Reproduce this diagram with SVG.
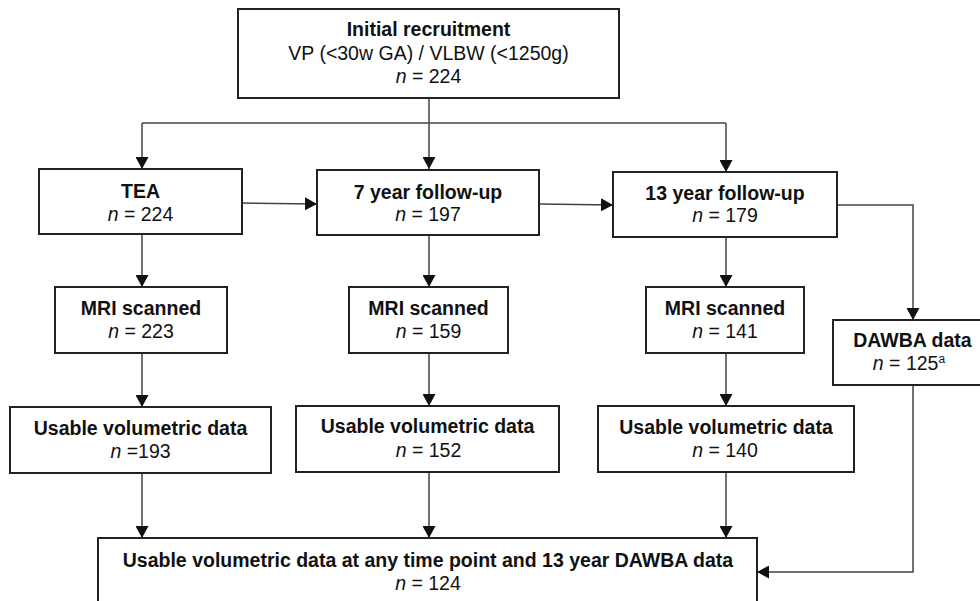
<svg xmlns="http://www.w3.org/2000/svg" width="980" height="601" viewBox="0 0 980 601">
<defs>
<marker id="arr" markerUnits="userSpaceOnUse" markerWidth="13" markerHeight="13" refX="12" refY="6.5" orient="auto" viewBox="0 0 13 13">
<path d="M0,0 L12,6.5 L0,13 z" fill="#111"/>
</marker>
<style>
.box{fill:#fff;stroke:#222;stroke-width:2}
.c{fill:none;stroke:#444;stroke-width:1.5}
.a{marker-end:url(#arr)}
text{font-family:"Liberation Sans",Arial,sans-serif;font-size:19.5px;fill:#111;text-anchor:middle}
.b{font-weight:bold}
.i{font-style:italic}
.sup{font-size:12px}
</style>
</defs>
<rect width="980" height="601" fill="#fff"/>
<g id="connectors">
<path class="c a" d="M429,98 V169"/>
<path class="c" d="M142,123 H726"/>
<path class="c a" d="M142,123 V169"/>
<path class="c a" d="M726,123 V172"/>
<path class="c a" d="M242,203 L317,204"/>
<path class="c a" d="M539,204 L613,205"/>
<path class="c a" d="M837,205 H913 V320"/>
<path class="c a" d="M142,234 V287"/>
<path class="c a" d="M429,235 V287"/>
<path class="c a" d="M726,237 V287"/>
<path class="c a" d="M142,353 V407"/>
<path class="c a" d="M429,353 V406"/>
<path class="c a" d="M726,353 V406"/>
<path class="c a" d="M142,473 V538"/>
<path class="c a" d="M429,472 V538"/>
<path class="c a" d="M726,472 V538"/>
<path class="c a" d="M913,385 V572 H757"/>
</g>
<g id="initial">
<rect class="box" x="238" y="9" width="381" height="89"/>
<text x="428.5" y="36" class="b">Initial recruitment</text>
<text x="428.5" y="60">VP (&lt;30w GA) / VLBW (&lt;1250g)</text>
<text x="428.5" y="83"><tspan class="i">n</tspan> = 224</text>
</g>
<g id="tea">
<rect class="box" x="39" y="169" width="203" height="65"/>
<text x="140.5" y="198" class="b">TEA</text>
<text x="140.5" y="221"><tspan class="i">n</tspan> = 224</text>
</g>
<g id="fu7">
<rect class="box" x="317" y="170" width="222" height="65"/>
<text x="428" y="199" class="b">7 year follow-up</text>
<text x="428" y="221"><tspan class="i">n</tspan> = 197</text>
</g>
<g id="fu13">
<rect class="box" x="613" y="172" width="224" height="65"/>
<text x="725" y="200" class="b">13 year follow-up</text>
<text x="725" y="222"><tspan class="i">n</tspan> = 179</text>
</g>
<g id="mri1">
<rect class="box" x="55" y="287" width="172" height="66"/>
<text x="141" y="315" class="b">MRI scanned</text>
<text x="141" y="338"><tspan class="i">n</tspan> = 223</text>
</g>
<g id="mri2">
<rect class="box" x="349" y="287" width="159" height="66"/>
<text x="428.5" y="315" class="b">MRI scanned</text>
<text x="428.5" y="338"><tspan class="i">n</tspan> = 159</text>
</g>
<g id="mri3">
<rect class="box" x="646" y="287" width="158" height="66"/>
<text x="725" y="315" class="b">MRI scanned</text>
<text x="725" y="338"><tspan class="i">n</tspan> = 141</text>
</g>
<g id="dawba">
<rect class="box" x="833" y="320" width="160" height="65"/>
<text x="912.5" y="347" class="b">DAWBA data</text>
<text x="909" y="370"><tspan class="i">n</tspan> = 125<tspan class="sup" dy="-7">a</tspan></text>
</g>
<g id="usable1">
<rect class="box" x="10" y="407" width="261" height="66"/>
<text x="140.5" y="435" class="b">Usable volumetric data</text>
<text x="140.5" y="458"><tspan class="i">n</tspan> =193</text>
</g>
<g id="usable2">
<rect class="box" x="296" y="406" width="263" height="66"/>
<text x="427.5" y="433" class="b">Usable volumetric data</text>
<text x="428.5" y="457"><tspan class="i">n</tspan> = 152</text>
</g>
<g id="usable3">
<rect class="box" x="598" y="406" width="256" height="66"/>
<text x="726" y="434" class="b">Usable volumetric data</text>
<text x="725" y="457"><tspan class="i">n</tspan> = 140</text>
</g>
<g id="final">
<rect class="box" x="98" y="538" width="659" height="80"/>
<text x="428" y="567" class="b">Usable volumetric data at any time point and 13 year DAWBA data</text>
<text x="428" y="590"><tspan class="i">n</tspan> = 124</text>
</g>
</svg>
